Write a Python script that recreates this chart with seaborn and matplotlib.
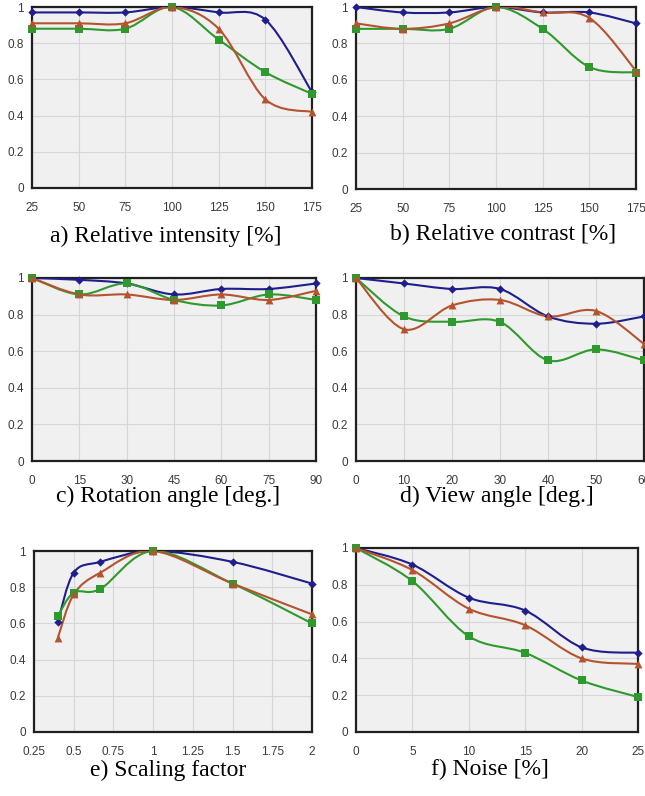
"""Six robustness panels: matching score vs. image distortions (three methods)."""

import matplotlib

matplotlib.use("Agg")
import matplotlib.pyplot as plt
import numpy as np
import seaborn as sns
from matplotlib.patches import PathPatch
from matplotlib.path import Path
from matplotlib.ticker import FuncFormatter

# ---- data ----
intensity_x = [25, 50, 75, 100, 125, 150, 175]
intensity_blue = [0.97, 0.97, 0.97, 1.0, 0.97, 0.93, 0.53]
intensity_orange = [0.91, 0.91, 0.91, 1.0, 0.88, 0.49, 0.42]
intensity_green = [0.88, 0.88, 0.88, 1.0, 0.82, 0.64, 0.52]

contrast_x = [25, 50, 75, 100, 125, 150, 175]
contrast_blue = [1.0, 0.97, 0.97, 1.0, 0.97, 0.97, 0.91]
contrast_orange = [0.91, 0.88, 0.91, 1.0, 0.97, 0.94, 0.65]
contrast_green = [0.88, 0.88, 0.88, 1.0, 0.88, 0.67, 0.64]

rotation_x = [0, 15, 30, 45, 60, 75, 90]
rotation_blue = [1.0, 0.99, 0.97, 0.91, 0.94, 0.94, 0.97]
rotation_orange = [1.0, 0.91, 0.91, 0.88, 0.91, 0.88, 0.93]
rotation_green = [1.0, 0.91, 0.97, 0.88, 0.85, 0.91, 0.88]

view_x = [0, 10, 20, 30, 40, 50, 60]
view_blue = [1.0, 0.97, 0.94, 0.94, 0.79, 0.75, 0.79]
view_orange = [1.0, 0.72, 0.85, 0.88, 0.79, 0.82, 0.64]
view_green = [1.0, 0.79, 0.76, 0.76, 0.55, 0.61, 0.55]

scale_x = [0.4, 0.5, 0.667, 1.0, 1.5, 2.0]
scale_blue = [0.61, 0.88, 0.94, 1.0, 0.94, 0.82]
scale_orange = [0.52, 0.76, 0.88, 1.0, 0.82, 0.65]
scale_green = [0.64, 0.77, 0.79, 1.0, 0.82, 0.60]

noise_x = [0, 5, 10, 15, 20, 25]
noise_blue = [1.0, 0.91, 0.73, 0.66, 0.46, 0.43]
noise_orange = [1.0, 0.88, 0.67, 0.58, 0.40, 0.37]
noise_green = [1.0, 0.82, 0.52, 0.43, 0.28, 0.19]

y_ticks = [0, 0.2, 0.4, 0.6, 0.8, 1.0]

BLUE = "#1e1e8c"
ORANGE = "#b4532e"
GREEN = "#2e9a2e"

W, H = 645, 796


def smooth_path(x, y):
    """Excel-like smoothed line through the points (cubic Bezier segments)."""
    pts = np.column_stack([x, y]).astype(float)
    n = len(pts)
    verts = [pts[0]]
    codes = [Path.MOVETO]
    for i in range(n - 1):
        p0 = pts[i - 1] if i > 0 else pts[i]
        p3 = pts[i + 2] if i + 2 < n else pts[i + 1]
        c1 = pts[i] + (pts[i + 1] - p0) / 6
        c2 = pts[i + 1] - (p3 - pts[i]) / 6
        verts += [c1, c2, pts[i + 1]]
        codes += [Path.CURVE4] * 3
    return Path(verts, codes)


def add_panel(fig, box, x, series, xlim, xticks, caption, cap_xy):
    left, top, right, bottom = box
    ax = fig.add_axes([left / W, 1 - bottom / H, (right - left) / W, (bottom - top) / H])
    ax.set_facecolor("#f0f0f0")
    ax.set_xlim(xlim)
    ax.set_ylim(0, 1)
    ax.set_xticks(xticks)
    ax.set_yticks(y_ticks)
    fmt = FuncFormatter(lambda v, _: f"{v:g}")
    ax.xaxis.set_major_formatter(fmt)
    ax.yaxis.set_major_formatter(fmt)
    ax.grid(True, color="#d6d6d6", linewidth=0.8)
    ax.set_axisbelow(True)
    ax.tick_params(length=0, labelsize=8.5, labelcolor="#3a3a3a")
    ax.tick_params(axis="x", pad=10)
    ax.tick_params(axis="y", pad=6)
    for lab in ax.get_xticklabels() + ax.get_yticklabels():
        lab.set_fontfamily("Liberation Sans")
    for sp in ax.spines.values():
        sp.set_visible(True)
        sp.set_color("#202020")
        sp.set_linewidth(1.6)

    for y, color, marker, size in series:
        ax.add_patch(PathPatch(smooth_path(x, y), facecolor="none", edgecolor=color, linewidth=1.5, zorder=3))
        sns.scatterplot(
            x=x, y=y, ax=ax, marker=marker, color=color, s=size,
            linewidth=0, clip_on=False, zorder=4, legend=False,
        )
    ax.set_xlabel("")
    ax.set_ylabel("")
    fig.text(cap_xy[0] / W, 1 - cap_xy[1] / H, caption, ha="center", va="center",
             fontsize=17, fontfamily="Liberation Serif", color="black")
    return ax


sns.set_style("white")
fig = plt.figure(figsize=(W / 100, H / 100), dpi=100, facecolor="white")


def trio(blue, orange, green):
    return [(blue, BLUE, "D", 18), (green, GREEN, "s", 30), (orange, ORANGE, "^", 32)]


add_panel(fig, (32, 7, 312, 188), intensity_x, trio(intensity_blue, intensity_orange, intensity_green),
          (25, 175), intensity_x, "a) Relative intensity [%]", (166, 236))
add_panel(fig, (356, 7, 636, 189), contrast_x, trio(contrast_blue, contrast_orange, contrast_green),
          (25, 175), contrast_x, "b) Relative contrast [%]", (503, 234))
add_panel(fig, (32, 278, 316, 461), rotation_x, trio(rotation_blue, rotation_orange, rotation_green),
          (0, 90), rotation_x, "c) Rotation angle [deg.]", (168, 496))
add_panel(fig, (356, 278, 644, 461), view_x, trio(view_blue, view_orange, view_green),
          (0, 60), view_x, "d) View angle [deg.]", (497, 496))
add_panel(fig, (34, 551, 312, 732), scale_x, trio(scale_blue, scale_orange, scale_green),
          (0.25, 2), [0.25, 0.5, 0.75, 1, 1.25, 1.5, 1.75, 2], "e) Scaling factor", (168, 770))
add_panel(fig, (356, 548, 638, 732), noise_x, trio(noise_blue, noise_orange, noise_green),
          (0, 25), noise_x, "f) Noise [%]", (490, 769))

fig.savefig("out.png", dpi=100, facecolor="white")
plt.close(fig)
